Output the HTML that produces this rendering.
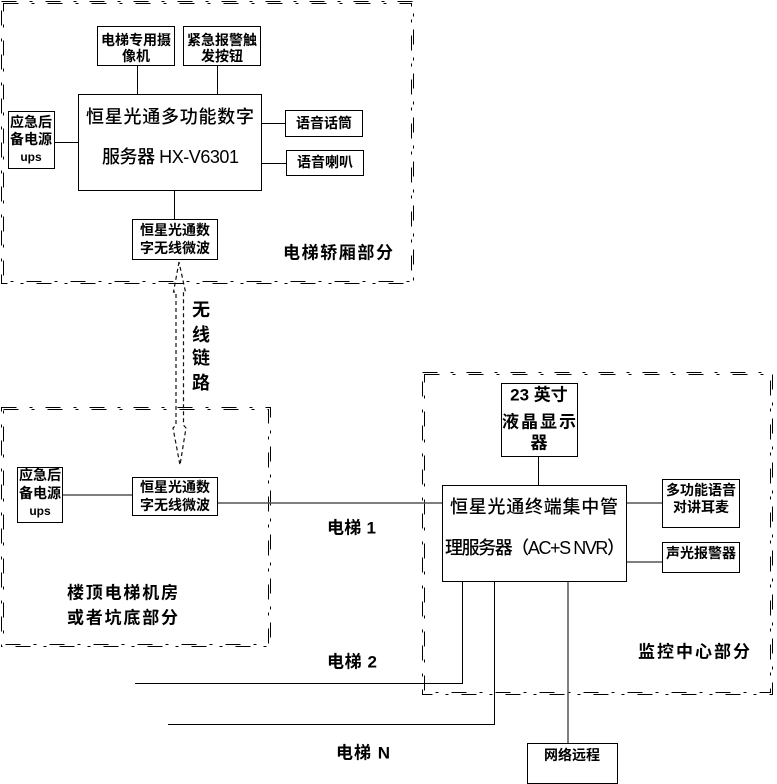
<!DOCTYPE html>
<html>
<head>
<meta charset="utf-8">
<style>
html,body{margin:0;padding:0;background:#fff;}
svg{display:block;}
text{font-family:"Liberation Sans","Noto Sans CJK SC",sans-serif;fill:#000;}
.b{font-weight:bold;font-size:14px;}
.m{font-size:18px;font-weight:500;}
.l{font-size:17px;font-weight:bold;}
</style>
</head>
<body>
<svg width="777" height="784" viewBox="0 0 777 784" xmlns="http://www.w3.org/2000/svg">
<g fill="none" stroke="#000" stroke-width="1" stroke-dasharray="15 13 3 13">
  <!-- region 1 -->
  <rect x="1.5" y="1.5" width="412" height="282"/>
  <rect x="3.5" y="3.5" width="408" height="278"/>
  <!-- region 2 -->
  <rect x="1.5" y="407.5" width="269" height="239"/>
  <rect x="3.5" y="409.5" width="265" height="235"/>
  <!-- region 3 -->
  <rect x="422.5" y="372.5" width="350" height="322"/>
  <rect x="424.5" y="374.5" width="346" height="318"/>
</g>

<g fill="#fff" stroke="#000" stroke-width="1" shape-rendering="crispEdges">
  <!-- car section -->
  <rect x="97.5" y="26.5" width="77" height="39"/>
  <rect x="183.5" y="26.5" width="77" height="39"/>
  <rect x="78.5" y="94.5" width="183" height="96"/>
  <rect x="8.5" y="111.5" width="46" height="57"/>
  <rect x="285.5" y="110.5" width="77" height="26"/>
  <rect x="286.5" y="150.5" width="77" height="25"/>
  <rect x="132.5" y="219.5" width="85" height="40"/>
  <!-- machine room -->
  <rect x="17.5" y="467.5" width="45" height="55"/>
  <rect x="132.5" y="477.5" width="85" height="38"/>
  <!-- monitoring -->
  <rect x="501.5" y="383.5" width="76" height="73"/>
  <rect x="442.5" y="485.5" width="184" height="96"/>
  <rect x="662.5" y="479.5" width="77" height="48"/>
  <rect x="662.5" y="542.5" width="77" height="30"/>
  <rect x="527.5" y="743.5" width="90" height="40"/>
</g>

<g stroke="#000" stroke-width="1" fill="none" shape-rendering="crispEdges">
  <line x1="137.5" y1="66" x2="137.5" y2="94"/>
  <line x1="217.5" y1="66" x2="217.5" y2="94"/>
  <line x1="55" y1="142.5" x2="78" y2="142.5"/>
  <line x1="262" y1="123.5" x2="285" y2="123.5"/>
  <line x1="262" y1="163.5" x2="286" y2="163.5"/>
  <line x1="174.5" y1="191" x2="174.5" y2="219"/>
  <line x1="538.5" y1="457" x2="538.5" y2="485"/>
  <polyline points="462.5,582 462.5,683.5 135,683.5"/>
  <polyline points="494.5,582 494.5,724.5 168,724.5"/>
</g>
<g stroke="#555" stroke-width="1.5" fill="none">
  <line x1="63" y1="495" x2="132" y2="495"/>
  <line x1="218" y1="503" x2="442" y2="503"/>
  <line x1="627" y1="503" x2="662" y2="503"/>
  <line x1="627" y1="562" x2="662" y2="562"/>
  <line x1="568" y1="582" x2="568" y2="743"/>
</g>

<!-- wireless link dashed double arrow -->
<path d="M179,262 L173.5,292 L176,292 L176,425 L173,428 L180,465 L186,428 L183.5,425 L183.5,292 L185.5,292 Z" fill="none" stroke="#111" stroke-width="1.2" stroke-dasharray="4 3"/>

<!-- car section texts -->
<text class="b" x="136" y="40" text-anchor="middle" dominant-baseline="central">电梯专用摄</text>
<text class="b" x="136" y="56" text-anchor="middle" dominant-baseline="central">像机</text>
<text class="b" x="222" y="40" text-anchor="middle" dominant-baseline="central">紧急报警触</text>
<text class="b" x="222" y="56" text-anchor="middle" dominant-baseline="central">发按钮</text>
<text class="m" x="86" y="117" dominant-baseline="central" textLength="168" lengthAdjust="spacing">恒星光通多功能数字</text>
<text class="m" x="102" y="157" dominant-baseline="central" textLength="137" lengthAdjust="spacing">服务器 HX-V6301</text>
<text class="b" x="31" y="122" text-anchor="middle" dominant-baseline="central">应急后</text>
<text class="b" x="31" y="139" text-anchor="middle" dominant-baseline="central">备电源</text>
<text class="b" x="31" y="157" text-anchor="middle" dominant-baseline="central" style="font-size:12px">ups</text>
<text class="b" x="324" y="123" text-anchor="middle" dominant-baseline="central">语音话筒</text>
<text class="b" x="325" y="162" text-anchor="middle" dominant-baseline="central">语音喇叭</text>
<text class="b" x="175" y="230" text-anchor="middle" dominant-baseline="central">恒星光通数</text>
<text class="b" x="175" y="248" text-anchor="middle" dominant-baseline="central">字无线微波</text>
<text class="l" x="283" y="253" dominant-baseline="central" textLength="110" lengthAdjust="spacing">电梯轿厢部分</text>

<!-- wireless link label -->
<text class="l" x="201" y="310" text-anchor="middle" dominant-baseline="central" style="font-size:18px">无</text>
<text class="l" x="201" y="335" text-anchor="middle" dominant-baseline="central" style="font-size:18px">线</text>
<text class="l" x="201" y="358" text-anchor="middle" dominant-baseline="central" style="font-size:18px">链</text>
<text class="l" x="201" y="383" text-anchor="middle" dominant-baseline="central" style="font-size:18px">路</text>

<!-- machine room texts -->
<text class="b" x="40" y="475" text-anchor="middle" dominant-baseline="central">应急后</text>
<text class="b" x="40" y="493" text-anchor="middle" dominant-baseline="central">备电源</text>
<text class="b" x="40" y="511" text-anchor="middle" dominant-baseline="central" style="font-size:12px">ups</text>
<text class="b" x="175" y="487" text-anchor="middle" dominant-baseline="central">恒星光通数</text>
<text class="b" x="175" y="505" text-anchor="middle" dominant-baseline="central">字无线微波</text>
<text class="l" x="67" y="593" dominant-baseline="central" textLength="111" lengthAdjust="spacing">楼顶电梯机房</text>
<text class="l" x="67" y="618" dominant-baseline="central" textLength="111" lengthAdjust="spacing">或者坑底部分</text>

<!-- elevator labels -->
<text class="l" x="327" y="528" dominant-baseline="central" textLength="49" lengthAdjust="spacing">电梯 1</text>
<text class="l" x="327" y="662" dominant-baseline="central" textLength="50" lengthAdjust="spacing">电梯 2</text>
<text class="l" x="336" y="753" dominant-baseline="central" textLength="54" lengthAdjust="spacing">电梯 N</text>

<!-- monitoring texts -->
<text x="539" y="395" text-anchor="middle" dominant-baseline="central" style="font-size:17px;font-weight:bold">23 英寸</text>
<text x="539" y="422" text-anchor="middle" dominant-baseline="central" style="font-size:17px;font-weight:bold" textLength="74" lengthAdjust="spacing">液晶显示</text>
<text x="539" y="443" text-anchor="middle" dominant-baseline="central" style="font-size:17px;font-weight:bold">器</text>
<text class="m" x="450" y="507" dominant-baseline="central" textLength="168" lengthAdjust="spacing">恒星光通终端集中管</text>
<text class="m" x="445" y="548" dominant-baseline="central" textLength="180" lengthAdjust="spacing">理服务器（AC+S NVR）</text>
<text class="b" x="701" y="490" text-anchor="middle" dominant-baseline="central">多功能语音</text>
<text class="b" x="701" y="507" text-anchor="middle" dominant-baseline="central">对讲耳麦</text>
<text class="b" x="701" y="553" text-anchor="middle" dominant-baseline="central">声光报警器</text>
<text class="b" x="572" y="755" text-anchor="middle" dominant-baseline="central">网络远程</text>
<text class="l" x="638" y="652" dominant-baseline="central" textLength="112" lengthAdjust="spacing">监控中心部分</text>
</svg>
</body>
</html>
